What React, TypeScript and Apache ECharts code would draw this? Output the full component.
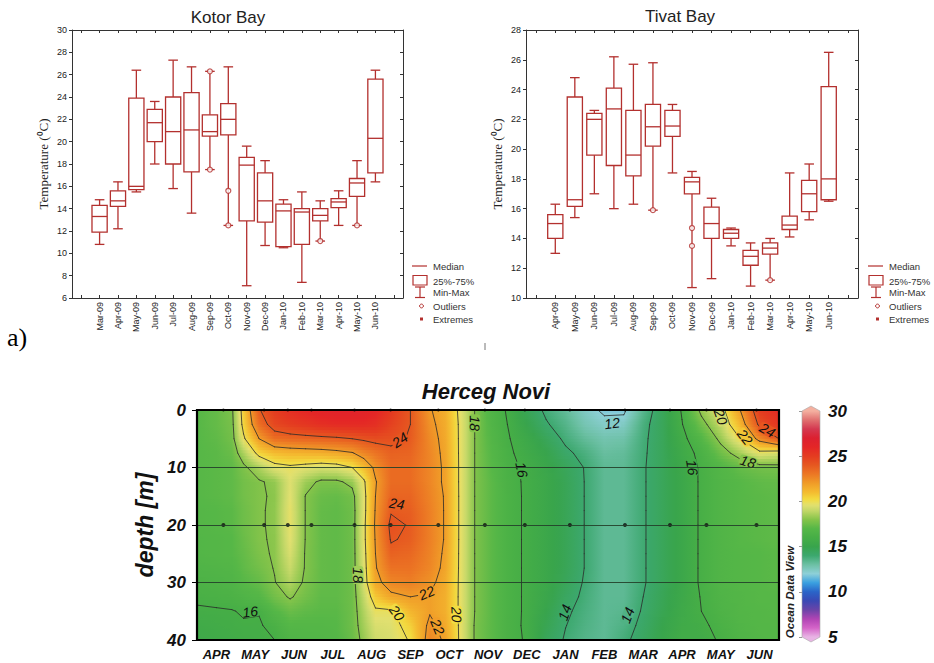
import React, { useEffect, useRef } from 'react';
import * as echarts from 'echarts';

const SANS = '"Liberation Sans", Arial, Helvetica, sans-serif';
const SERIF = '"Liberation Serif", "Times New Roman", Times, serif';
const BOX_RED = '#b3302e';

// ---------------- Kotor Bay (box plot) ----------------
const KOTOR_MONTHS = ['Mar-09', 'Apr-09', 'May-09', 'Jun-09', 'Jul-09', 'Aug-09', 'Sep-09', 'Oct-09', 'Nov-09', 'Dec-09', 'Jan-10', 'Feb-10', 'Mar-10', 'Apr-10', 'May-10', 'Jun-10'];
const KOTOR_MIN = [10.8, 12.2, 15.5, 18.0, 15.8, 13.6, 17.5, 12.5, 7.1, 10.7, 10.5, 7.4, 11.1, 12.5, 12.5, 16.4];
const KOTOR_Q1 = [11.9, 14.2, 15.7, 20.0, 18.0, 17.3, 20.5, 20.6, 12.9, 12.8, 10.6, 10.8, 12.9, 14.1, 15.1, 17.2];
const KOTOR_MEDIAN = [13.3, 14.7, 16.0, 21.7, 20.9, 21.05, 20.9, 22.0, 17.9, 14.7, 13.8, 13.7, 13.4, 14.6, 16.3, 20.3];
const KOTOR_Q3 = [14.3, 15.6, 23.9, 22.9, 24.0, 24.4, 22.4, 23.4, 18.6, 17.2, 14.4, 14.0, 14.0, 14.9, 16.7, 25.6];
const KOTOR_MAX = [14.8, 16.4, 26.4, 23.6, 27.3, 26.7, 26.3, 26.7, 19.6, 18.3, 14.8, 15.5, 14.7, 15.6, 18.3, 26.4];
const KOTOR_OUTLIERS: [string, number][] = [['Sep-09', 26.3], ['Sep-09', 17.5], ['Oct-09', 15.6], ['Oct-09', 12.5], ['Mar-10', 11.1], ['May-10', 12.5]];
const KOTOR_Y = { min: 6, max: 30, step: 2 };

// ---------------- Tivat Bay (box plot) ----------------
const TIVAT_MONTHS = ['Apr-09', 'May-09', 'Jun-09', 'Jul-09', 'Aug-09', 'Sep-09', 'Oct-09', 'Nov-09', 'Dec-09', 'Jan-10', 'Feb-10', 'Mar-10', 'Apr-10', 'May-10', 'Jun-10'];
const TIVAT_MIN = [13.0, 15.4, 17.0, 16.0, 16.3, 15.9, 18.4, 10.7, 11.3, 13.5, 10.8, 11.2, 14.1, 15.25, 16.5];
const TIVAT_Q1 = [14.0, 16.15, 19.6, 18.9, 18.2, 20.2, 20.85, 17.0, 14.0, 14.0, 12.2, 12.95, 14.6, 15.8, 16.6];
const TIVAT_MEDIAN = [15.0, 16.6, 22.0, 22.7, 19.6, 21.5, 21.55, 17.8, 15.0, 14.35, 12.8, 13.35, 14.9, 17.0, 18.0];
const TIVAT_Q3 = [15.6, 23.5, 22.4, 24.1, 22.6, 23.0, 22.6, 18.1, 16.1, 14.6, 13.2, 13.7, 15.5, 17.9, 24.2];
const TIVAT_MAX = [16.3, 24.8, 22.6, 26.2, 25.7, 25.8, 23.0, 18.5, 16.7, 14.7, 13.7, 14.0, 18.4, 19.0, 26.5];
const TIVAT_OUTLIERS: [string, number][] = [['Sep-09', 15.9], ['Nov-09', 14.7], ['Nov-09', 13.5], ['Mar-10', 11.2]];
const TIVAT_Y = { min: 10, max: 28, step: 2 };

// ---------------- Herceg Novi (depth-time section) ----------------
const HN_MONTHS = ['APR', 'MAY', 'JUN', 'JUL', 'AUG', 'SEP', 'OCT', 'NOV', 'DEC', 'JAN', 'FEB', 'MAR', 'APR', 'MAY', 'JUN'];
// positions (in months from start of April) of the temperature profiles read from the section
const HN_X = [0, 0.5, 0.9, 1.2, 1.6, 2.0, 2.4, 2.8, 3.2, 3.6, 4.0, 4.3, 4.6, 5.0, 5.5, 6.0, 6.4, 6.8, 7.2, 7.6, 8.0, 8.5, 9.0, 9.5, 10.0, 10.5, 11.0, 11.5, 12.0, 12.5, 13.0, 13.5, 14.0, 14.5, 15.0];
const HN_DEPTHS = [0, 2.5, 5, 7.5, 10, 12.5, 15, 17.5, 20, 22.5, 25, 27.5, 30, 32.5, 35, 37.5, 40];
// temperature profiles (°C) at each HN_X position, top (0 m) to bottom (40 m)
const HN_P00 = [17.0, 17.0, 17.0, 17.0, 17.0, 17.0, 17.0, 16.9, 16.9, 16.8, 16.8, 16.6, 16.4, 16.2, 15.85, 15.6, 15.5];
const HN_P05 = [17.3, 17.3, 17.2, 17.1, 17.1, 17.1, 17.1, 17.0, 17.0, 16.9, 16.9, 16.7, 16.5, 16.3, 15.9, 15.7, 15.6];
const HN_P09 = [17.8, 17.7, 17.6, 17.4, 17.2, 17.2, 17.2, 17.1, 17.1, 17.0, 17.0, 16.8, 16.6, 16.4, 15.95, 15.8, 15.7];
const HN_P12 = [20.6, 20.4, 19.8, 18.6, 17.8, 17.6, 17.6, 17.5, 17.5, 17.4, 17.3, 17.2, 17.0, 16.6, 16.1, 15.9, 15.8];
const HN_P16 = [23.9, 23.3, 22.0, 20.4, 18.6, 17.9, 17.9, 17.9, 17.9, 17.9, 17.8, 17.6, 17.3, 16.9, 16.05, 15.9, 15.85];
const HN_P20 = [25.0, 24.6, 23.3, 21.0, 19.6, 18.2, 18.1, 18.15, 18.15, 18.1, 18.1, 18.05, 17.95, 17.6, 16.9, 16.3, 16.0];
const HN_P24 = [25.6, 25.0, 23.5, 21.2, 19.8, 19.5, 19.6, 19.7, 19.7, 19.6, 19.4, 19.1, 18.7, 18.1, 17.4, 16.9, 16.6];
const HN_P28 = [26.0, 25.3, 23.6, 21.3, 19.6, 18.4, 17.95, 17.95, 17.95, 17.95, 17.9, 17.9, 17.8, 17.6, 17.2, 16.9, 16.7];
const HN_P32 = [26.3, 25.6, 23.7, 21.4, 19.4, 17.8, 17.4, 17.3, 17.3, 17.3, 17.3, 17.3, 17.3, 17.2, 17.1, 16.9, 16.8];
const HN_P36 = [26.5, 25.8, 23.8, 21.6, 19.5, 17.8, 17.3, 17.2, 17.2, 17.2, 17.2, 17.2, 17.2, 17.2, 17.1, 17.0, 16.9];
const HN_P40 = [26.5, 25.8, 24.0, 21.9, 20.0, 18.3, 17.6, 17.5, 17.5, 17.5, 17.5, 17.5, 17.5, 17.5, 17.5, 17.5, 17.4];
const HN_P43 = [26.4, 25.8, 24.2, 22.6, 21.0, 19.8, 19.6, 19.6, 19.7, 19.7, 19.6, 19.5, 19.4, 19.0, 18.7, 18.5, 18.3];
const HN_P46 = [26.1, 25.6, 24.4, 23.1, 22.3, 21.9, 22.0, 22.1, 22.2, 22.1, 22.0, 21.9, 21.6, 20.7, 19.8, 19.4, 19.2];
const HN_P50 = [25.2, 24.8, 24.3, 23.7, 23.4, 23.4, 23.6, 23.9, 24.3, 24.1, 23.7, 23.2, 22.6, 21.7, 19.8, 19.5, 19.4];
const HN_P55 = [24.0, 24.0, 23.9, 23.6, 23.4, 23.4, 23.6, 23.8, 23.9, 23.8, 23.5, 23.2, 22.8, 22.0, 21.2, 20.5, 20.1];
const HN_P60 = [22.1, 22.3, 22.5, 22.6, 22.6, 22.6, 22.7, 22.8, 22.8, 22.8, 22.7, 22.6, 22.3, 21.9, 21.9, 22.3, 22.6];
const HN_P64 = [21.4, 21.5, 21.6, 21.7, 21.8, 21.8, 21.9, 21.9, 21.9, 21.9, 21.8, 21.7, 21.5, 21.4, 21.4, 21.6, 21.8];
const HN_P68 = [19.6, 19.7, 19.7, 19.7, 19.7, 19.7, 19.7, 19.7, 19.7, 19.7, 19.7, 19.7, 19.7, 19.7, 19.7, 19.7, 19.7];
const HN_P72 = [17.8, 17.8, 17.8, 17.8, 17.8, 17.8, 17.8, 17.8, 17.8, 17.8, 17.8, 17.8, 17.8, 17.8, 17.8, 17.7, 17.7];
const HN_P76 = [16.6, 16.7, 16.8, 16.9, 17.0, 17.1, 17.1, 17.1, 17.1, 17.1, 17.1, 17.1, 17.1, 17.1, 17.1, 17.1, 17.1];
const HN_P80 = [15.9, 16.0, 16.1, 16.2, 16.3, 16.35, 16.4, 16.4, 16.4, 16.4, 16.4, 16.4, 16.4, 16.4, 16.4, 16.35, 16.35];
const HN_P85 = [14.7, 15.0, 15.4, 15.6, 15.8, 15.85, 15.85, 15.85, 15.85, 15.85, 15.85, 15.85, 15.85, 15.85, 15.85, 15.85, 15.9];
const HN_P90 = [13.8, 14.1, 14.6, 15.0, 15.2, 15.3, 15.3, 15.3, 15.3, 15.3, 15.3, 15.3, 15.3, 15.2, 15.0, 14.8, 14.6];
const HN_P95 = [13.2, 13.5, 13.8, 14.2, 14.6, 14.7, 14.7, 14.7, 14.7, 14.7, 14.7, 14.7, 14.6, 14.4, 14.15, 14.02, 13.9];
const HN_P100 = [12.4, 12.7, 13.2, 13.7, 13.95, 13.97, 13.97, 13.97, 13.97, 13.97, 13.97, 13.97, 13.9, 13.8, 13.7, 13.6, 13.5];
const HN_P105 = [11.8, 12.3, 12.8, 13.1, 13.3, 13.3, 13.3, 13.3, 13.3, 13.3, 13.3, 13.3, 13.3, 13.3, 13.3, 13.3, 13.3];
const HN_P110 = [11.8, 12.4, 12.9, 13.2, 13.3, 13.3, 13.3, 13.3, 13.3, 13.3, 13.3, 13.3, 13.3, 13.3, 13.4, 13.6, 13.8];
const HN_P115 = [13.4, 13.7, 13.8, 13.85, 13.9, 13.9, 13.9, 13.9, 13.9, 13.9, 13.9, 13.9, 13.9, 14.0, 14.1, 14.25, 14.4];
const HN_P120 = [14.6, 14.6, 14.6, 14.6, 14.6, 14.6, 14.6, 14.6, 14.6, 14.6, 14.6, 14.6, 14.6, 14.7, 14.8, 15.0, 15.1];
const HN_P125 = [16.1, 15.95, 15.7, 15.5, 15.35, 15.3, 15.3, 15.3, 15.3, 15.3, 15.3, 15.3, 15.3, 15.4, 15.5, 15.6, 15.7];
const HN_P130 = [18.3, 17.6, 16.8, 16.3, 16.15, 16.15, 16.15, 16.15, 16.15, 16.15, 16.15, 16.15, 16.15, 16.05, 16.0, 15.8, 15.7];
const HN_P135 = [19.5, 19.0, 18.3, 17.5, 16.8, 16.7, 16.7, 16.7, 16.7, 16.7, 16.7, 16.7, 16.7, 16.6, 16.5, 16.3, 16.1];
const HN_P140 = [22.0, 21.2, 20.0, 18.5, 17.3, 17.0, 17.0, 17.0, 17.0, 17.0, 16.9, 16.9, 16.9, 16.8, 16.8, 16.7, 16.6];
const HN_P145 = [25.0, 24.3, 22.5, 19.6, 17.6, 17.2, 17.1, 17.1, 17.1, 17.1, 17.0, 17.0, 17.0, 17.0, 16.9, 16.9, 16.8];
const HN_P150 = [25.8, 25.3, 24.0, 19.3, 17.7, 17.3, 17.2, 17.2, 17.2, 17.2, 17.1, 17.1, 17.1, 17.0, 17.0, 16.9, 16.9];
const HN_PROFILES = [HN_P00, HN_P05, HN_P09, HN_P12, HN_P16, HN_P20, HN_P24, HN_P28, HN_P32, HN_P36, HN_P40, HN_P43, HN_P46, HN_P50, HN_P55, HN_P60, HN_P64, HN_P68, HN_P72, HN_P76, HN_P80, HN_P85, HN_P90, HN_P95, HN_P100, HN_P105, HN_P110, HN_P115, HN_P120, HN_P125, HN_P130, HN_P135, HN_P140, HN_P145, HN_P150];
// sampling times (months from start of April), shown as dots at 20 m and at the surface
const HN_STATIONS = [0.68, 1.73, 2.34, 2.95, 4.06, 4.99, 6.22, 7.42, 8.45, 9.61, 11.03, 12.19, 13.13, 14.42];
const HN_DEPTH_LINES = [10, 20, 30];
const HN_LEVELS = [12, 14, 16, 18, 20, 22, 24];
// contour labels: [month position, depth, level]
const HN_CONTOUR_LABELS: [number, number, number][] = [
  [5.23, 5.2, 24], [5.15, 16.3, 24], [4.15, 28.7, 18], [5.92, 31.8, 22], [5.15, 35.3, 20], [6.2, 37.7, 22],
  [6.69, 35.6, 20], [7.16, 2.3, 18], [8.37, 10.4, 16], [1.37, 35.1, 16], [9.48, 35.2, 14], [11.1, 35.7, 14],
  [10.7, 2.3, 12], [12.76, 10, 16], [13.5, 1.2, 20], [14.12, 4.7, 22], [14.7, 3.5, 24], [14.2, 9, 18],
];
const CBAR_RANGE = { min: 5, max: 30, step: 5 };

// ODV-like colour map
const CMAP: [number, string][] = [
  [5, '#e8b4e4'], [6, '#d464c8'], [7, '#b044b4'], [8, '#6a44a8'], [9, '#3a48b4'], [10, '#2a64c8'],
  [11, '#3aa0e0'], [12, '#8ed0d8'], [13, '#6cc0a4'], [14, '#3ca86e'], [15, '#38a44c'], [16, '#46ae46'],
  [17, '#56b747'], [18, '#86c44a'], [19, '#c4d868'], [19.6, '#e2e070'], [20.2, '#f2dc40'], [21, '#f4bc30'],
  [22, '#f09c28'], [23, '#ec7824'], [24, '#e65820'], [25, '#e43c20'], [26, '#e42626'], [27, '#dc2030'],
  [28, '#d43850'], [29, '#e07070'], [30, '#f4b0a0'],
];
const CMAP_RGB = CMAP.map(([v, h]) => [v, [parseInt(h.slice(1, 3), 16), parseInt(h.slice(3, 5), 16), parseInt(h.slice(5, 7), 16)]] as [number, number[]]);
function cmap(v: number): string {
  if (v <= CMAP_RGB[0][0]) { const c = CMAP_RGB[0][1]; return `rgb(${c[0]},${c[1]},${c[2]})`; }
  for (let k = 0; k < CMAP_RGB.length - 1; k++) {
    const [v0, c0] = CMAP_RGB[k];
    const [v1, c1] = CMAP_RGB[k + 1];
    if (v <= v1) {
      const t = (v - v0) / (v1 - v0);
      const r = Math.round(c0[0] + t * (c1[0] - c0[0]));
      const g = Math.round(c0[1] + t * (c1[1] - c0[1]));
      const b = Math.round(c0[2] + t * (c1[2] - c0[2]));
      return `rgb(${r},${g},${b})`;
    }
  }
  const c = CMAP_RGB[CMAP_RGB.length - 1][1];
  return `rgb(${c[0]},${c[1]},${c[2]})`;
}

// grid rows (depth) x columns (time)
const GRID = HN_DEPTHS.map((_, r) => HN_PROFILES.map((p) => p[r]));
const X_MIN = HN_X[0];
const X_MAX = HN_X[HN_X.length - 1];
const D_MAX = HN_DEPTHS[HN_DEPTHS.length - 1];

function sampleField(x: number, d: number): number {
  let i = 0;
  while (i < HN_X.length - 2 && HN_X[i + 1] < x) i++;
  let j = 0;
  while (j < HN_DEPTHS.length - 2 && HN_DEPTHS[j + 1] < d) j++;
  const tx = Math.max(0, Math.min(1, (x - HN_X[i]) / (HN_X[i + 1] - HN_X[i])));
  const ty = Math.max(0, Math.min(1, (d - HN_DEPTHS[j]) / (HN_DEPTHS[j + 1] - HN_DEPTHS[j])));
  const a = GRID[j][i], b = GRID[j][i + 1], c = GRID[j + 1][i + 1], dd = GRID[j + 1][i];
  return (1 - ty) * ((1 - tx) * a + tx * b) + ty * ((1 - tx) * dd + tx * c);
}

function segmentsFor(L: number) {
  const segs: number[][][] = [];
  for (let j = 0; j < HN_DEPTHS.length - 1; j++) {
    for (let i = 0; i < HN_X.length - 1; i++) {
      const a = GRID[j][i], b = GRID[j][i + 1], c = GRID[j + 1][i + 1], d = GRID[j + 1][i];
      const x0 = HN_X[i], x1 = HN_X[i + 1], y0 = HN_DEPTHS[j], y1 = HN_DEPTHS[j + 1];
      const A = a >= L, B = b >= L, C = c >= L, D = d >= L;
      const top = A !== B ? [x0 + ((L - a) / (b - a)) * (x1 - x0), y0] : null;
      const right = B !== C ? [x1, y0 + ((L - b) / (c - b)) * (y1 - y0)] : null;
      const bottom = D !== C ? [x0 + ((L - d) / (c - d)) * (x1 - x0), y1] : null;
      const left = A !== D ? [x0, y0 + ((L - a) / (d - a)) * (y1 - y0)] : null;
      const pts = [top, right, bottom, left].filter(Boolean) as number[][];
      if (pts.length === 2) segs.push([pts[0], pts[1]]);
      else if (pts.length === 4) {
        const center = (a + b + c + d) / 4 >= L;
        if (center === A) { segs.push([top!, right!]); segs.push([bottom!, left!]); }
        else { segs.push([top!, left!]); segs.push([right!, bottom!]); }
      }
    }
  }
  return segs;
}
const SEGS = HN_LEVELS.map((L) => segmentsFor(L));

// ---------------- render helpers ----------------
function boxRender(params: any, api: any) {
  const x = api.value(0);
  const pMin = api.coord([x, api.value(1)]);
  const pQ1 = api.coord([x, api.value(2)]);
  const pMed = api.coord([x, api.value(3)]);
  const pQ3 = api.coord([x, api.value(4)]);
  const pMax = api.coord([x, api.value(5)]);
  const cx = pMin[0];
  const hw = 7.6;
  const cw = 4.8;
  const st = { stroke: BOX_RED, lineWidth: 1.3, fill: null };
  return {
    type: 'group',
    children: [
      { type: 'line', shape: { x1: cx, y1: pMax[1], x2: cx, y2: pQ3[1] }, style: st },
      { type: 'line', shape: { x1: cx, y1: pQ1[1], x2: cx, y2: pMin[1] }, style: st },
      { type: 'line', shape: { x1: cx - cw, y1: pMax[1], x2: cx + cw, y2: pMax[1] }, style: st },
      { type: 'line', shape: { x1: cx - cw, y1: pMin[1], x2: cx + cw, y2: pMin[1] }, style: st },
      { type: 'rect', shape: { x: cx - hw, y: pQ3[1], width: 2 * hw, height: pQ1[1] - pQ3[1] }, style: { stroke: BOX_RED, lineWidth: 1.3, fill: '#ffffff' } },
      { type: 'line', shape: { x1: cx - hw, y1: pMed[1], x2: cx + hw, y2: pMed[1] }, style: st },
    ],
  };
}

function heatRender(params: any, api: any) {
  const j = api.value(2);
  const S = 5;
  const K = 3;
  const last = HN_X.length - 1;
  const xL = api.coord([X_MIN, HN_DEPTHS[j]])[0];
  const xR = api.coord([X_MAX, HN_DEPTHS[j]])[0];
  const children: any[] = [];
  for (let s = 0; s < S; s++) {
    const t0 = s / S;
    const t1 = (s + 1) / S;
    const tm = (t0 + t1) / 2;
    const d0 = HN_DEPTHS[j] + t0 * (HN_DEPTHS[j + 1] - HN_DEPTHS[j]);
    const d1 = HN_DEPTHS[j] + t1 * (HN_DEPTHS[j + 1] - HN_DEPTHS[j]);
    const y0 = api.coord([X_MIN, d0])[1];
    const y1 = api.coord([X_MIN, d1])[1];
    const row = GRID[j].map((v, i) => v * (1 - tm) + GRID[j + 1][i] * tm);
    const stops: any[] = [];
    for (let i = 0; i < last; i++) {
      for (let k = 0; k < K; k++) {
        const f = k / K;
        const xv = HN_X[i] + f * (HN_X[i + 1] - HN_X[i]);
        stops.push({ offset: (xv - X_MIN) / (X_MAX - X_MIN), color: cmap(row[i] + f * (row[i + 1] - row[i])) });
      }
    }
    stops.push({ offset: 1, color: cmap(row[last]) });
    children.push({
      type: 'rect',
      shape: { x: xL, y: y0, width: xR - xL, height: y1 - y0 + 0.9 },
      style: { fill: { type: 'linear', x: 0, y: 0, x2: 1, y2: 0, colorStops: stops, global: false } },
    });
  }
  return { type: 'group', children };
}

function contourRender(params: any, api: any) {
  const li = api.value(2);
  const children = SEGS[li].map(([p, q]) => {
    const a = api.coord(p);
    const b = api.coord(q);
    return { type: 'line', shape: { x1: a[0], y1: a[1], x2: b[0], y2: b[1] }, style: { stroke: '#2a2a2a', lineWidth: 0.8, lineCap: 'round' } };
  });
  return { type: 'group', children };
}

function labelRender(params: any, api: any) {
  const k = api.value(2);
  const [lm, ld, lev] = HN_CONTOUR_LABELS[k];
  const P = api.coord([lm, ld]);
  const cs = params.coordSys;
  const f = (px: number, py: number) => {
    const m = X_MIN + ((px - cs.x) / cs.width) * (X_MAX - X_MIN);
    const d = ((py - cs.y) / cs.height) * D_MAX;
    return sampleField(Math.max(X_MIN, Math.min(X_MAX, m)), Math.max(0, Math.min(D_MAX, d)));
  };
  const h = 4;
  const gx = (f(P[0] + h, P[1]) - f(P[0] - h, P[1])) / (2 * h);
  const gy = (f(P[0], P[1] + h) - f(P[0], P[1] - h)) / (2 * h);
  // isotherm tangent is perpendicular to the local gradient
  let ang = Math.atan2(gx, -gy);
  while (ang > Math.PI / 2 + 1e-6) ang -= Math.PI;
  while (ang <= -Math.PI / 2 + 1e-6) ang += Math.PI;
  const bg = cmap(f(P[0], P[1]));
  return {
    type: 'group',
    x: P[0],
    y: P[1],
    rotation: -ang,
    children: [
      { type: 'rect', shape: { x: -9, y: -5.5, width: 18, height: 11, r: 3 }, style: { fill: bg } },
      {
        type: 'text',
        style: { text: String(lev), x: 0, y: 0, font: `italic 14px ${SANS}`, fill: '#111', textAlign: 'center', textVerticalAlign: 'middle', align: 'center', verticalAlign: 'middle' },
      },
    ],
  };
}

function frameRender(params: any, api: any) {
  const a = api.coord([X_MIN, 0]);
  const b = api.coord([X_MAX, D_MAX]);
  return { type: 'rect', shape: { x: a[0], y: a[1], width: b[0] - a[0], height: b[1] - a[1] }, style: { fill: null, stroke: '#000', lineWidth: 2.2 } };
}

function colorbarRender(params: any, api: any) {
  const top = api.coord([0, CBAR_RANGE.max]);
  const bot = api.coord([1, CBAR_RANGE.min]);
  const x0 = top[0], x1 = bot[0], yT = top[1], yB = bot[1];
  const xc = (x0 + x1) / 2;
  const tip = 5;
  const stops: any[] = [];
  for (let v = CBAR_RANGE.max; v >= CBAR_RANGE.min - 1e-9; v -= 0.25) {
    const y = api.coord([0, v])[1];
    stops.push({ offset: (y - (yT - tip)) / (yB - yT + 2 * tip), color: cmap(v) });
  }
  stops.unshift({ offset: 0, color: cmap(CBAR_RANGE.max) });
  stops.push({ offset: 1, color: cmap(CBAR_RANGE.min) });
  return {
    type: 'polygon',
    shape: { points: [[xc, yT - tip], [x1, yT], [x1, yB], [xc, yB + tip], [x0, yB], [x0, yT]] },
    style: { fill: { type: 'linear', x: 0, y: 0, x2: 0, y2: 1, colorStops: stops, global: false }, stroke: '#a8a8a8', lineWidth: 0.6 },
  };
}

function legendGraphic(iconX: number, textX: number) {
  const ys = [266, 281, 292.5, 306, 319];
  const names = ['Median', '25%-75%', 'Min-Max', 'Outliers', 'Extremes'];
  const st = { stroke: BOX_RED, lineWidth: 1.2, fill: null };
  const els: any[] = [
    { type: 'line', shape: { x1: iconX - 8, y1: ys[0], x2: iconX + 7, y2: ys[0] }, style: st },
    { type: 'rect', shape: { x: iconX - 7, y: 275.5, width: 14, height: 9.5 }, style: st },
    { type: 'line', shape: { x1: iconX, y1: 287, x2: iconX, y2: 297.5 }, style: st },
    { type: 'line', shape: { x1: iconX - 5, y1: 287, x2: iconX + 5, y2: 287 }, style: st },
    { type: 'line', shape: { x1: iconX - 5, y1: 297.5, x2: iconX + 5, y2: 297.5 }, style: st },
    { type: 'circle', shape: { cx: iconX + 1.5, cy: ys[3], r: 1.9 }, style: { stroke: BOX_RED, lineWidth: 1, fill: '#fff' } },
    { type: 'rect', shape: { x: iconX, y: ys[4] - 1.5, width: 3, height: 3 }, style: { fill: BOX_RED } },
  ];
  names.forEach((n, i) => {
    els.push({ type: 'text', x: textX, y: ys[i], style: { text: n, font: `9.5px ${SANS}`, fill: '#333', textAlign: 'left', textVerticalAlign: 'middle', align: 'left', verticalAlign: 'middle' } });
  });
  return els;
}

function boxAxes(gridIndex: number, cats: string[], y: { min: number; max: number; step: number }) {
  const data = [' ', ...cats, '  '];
  const line = { show: true, onZero: false, lineStyle: { color: '#333', width: 1 } };
  const xs = [
    {
      type: 'category', gridIndex, data, boundaryGap: true, position: 'bottom', axisLine: line,
      axisTick: { show: true, inside: true, length: 3, alignWithLabel: true, interval: 0, lineStyle: { color: '#333' } },
      axisLabel: { interval: 0, rotate: 90, fontSize: 9, fontFamily: SANS, color: '#222', margin: 4 },
      splitLine: { show: false },
    },
    {
      type: 'category', gridIndex, data, boundaryGap: true, position: 'top', axisLine: line,
      axisTick: { show: true, inside: true, length: 3, alignWithLabel: true, interval: 0, lineStyle: { color: '#333' } },
      axisLabel: { show: false }, splitLine: { show: false },
    },
  ];
  const ys = [
    {
      type: 'value', gridIndex, min: y.min, max: y.max, interval: y.step, position: 'left', axisLine: line,
      axisTick: { show: true, inside: false, length: 3, lineStyle: { color: '#333' } },
      axisLabel: { fontSize: 9, fontFamily: SANS, color: '#222', margin: 5 },
      splitLine: { show: false },
      name: 'Temperature (\u2070C)', nameLocation: 'middle', nameGap: 22, nameRotate: 90,
      nameTextStyle: { fontFamily: SERIF, fontSize: 13, color: '#222' },
    },
    {
      type: 'value', gridIndex, min: y.min, max: y.max, interval: y.step, position: 'right', axisLine: line,
      axisTick: { show: true, inside: true, length: 3, lineStyle: { color: '#333' } },
      axisLabel: { show: false }, splitLine: { show: false },
    },
  ];
  return { xs, ys };
}

function buildOption() {
  const kotorAx = boxAxes(0, KOTOR_MONTHS, KOTOR_Y);
  const tivatAx = boxAxes(1, TIVAT_MONTHS, TIVAT_Y);
  const boldItalic = { fontStyle: 'italic', fontWeight: 'bold', fontFamily: SANS, color: '#111' };

  const kotorBoxes = KOTOR_MONTHS.map((m, i) => [i + 1, KOTOR_MIN[i], KOTOR_Q1[i], KOTOR_MEDIAN[i], KOTOR_Q3[i], KOTOR_MAX[i]]);
  const tivatBoxes = TIVAT_MONTHS.map((m, i) => [i + 1, TIVAT_MIN[i], TIVAT_Q1[i], TIVAT_MEDIAN[i], TIVAT_Q3[i], TIVAT_MAX[i]]);
  const kotorOut = KOTOR_OUTLIERS.map(([m, v]) => [KOTOR_MONTHS.indexOf(m) + 1, v]);
  const tivatOut = TIVAT_OUTLIERS.map(([m, v]) => [TIVAT_MONTHS.indexOf(m) + 1, v]);
  const outlierStyle = { color: '#ffffff', borderColor: BOX_RED, borderWidth: 1.2 };

  return {
    animation: false,
    backgroundColor: '#ffffff',
    grid: [
      { left: 72, top: 30, width: 331, height: 268, outerBoundsMode: 'none' },
      { left: 526, top: 30, width: 332, height: 268, outerBoundsMode: 'none' },
      { left: 197, top: 410, width: 582, height: 230, outerBoundsMode: 'none' },
      { left: 802, top: 411, width: 18, height: 226, outerBoundsMode: 'none' },
    ],
    xAxis: [
      ...kotorAx.xs,
      ...tivatAx.xs,
      {
        type: 'value', gridIndex: 2, min: X_MIN, max: X_MAX, interval: 1,
        axisLine: { show: false }, axisTick: { show: true, length: 5, lineStyle: { color: '#000', width: 1 } },
        axisLabel: { show: false }, splitLine: { show: false },
      },
      {
        type: 'category', gridIndex: 2, data: HN_MONTHS, boundaryGap: true, position: 'bottom',
        axisLine: { show: false }, axisTick: { show: false },
        axisLabel: { interval: 0, fontSize: 13, margin: 8, ...boldItalic },
        splitLine: { show: false },
      },
      { type: 'value', gridIndex: 3, min: 0, max: 1, show: false },
    ],
    yAxis: [
      ...kotorAx.ys,
      ...tivatAx.ys,
      {
        type: 'value', gridIndex: 2, inverse: true, min: 0, max: D_MAX, interval: 10,
        axisLine: { show: false }, axisTick: { show: true, length: 5, lineStyle: { color: '#000', width: 1 } },
        axisLabel: { fontSize: 17, margin: 11, ...boldItalic },
        splitLine: { show: false },
        name: 'depth [m]', nameLocation: 'middle', nameGap: 40, nameRotate: 90,
        nameTextStyle: { fontSize: 23, ...boldItalic },
      },
      {
        type: 'value', gridIndex: 3, min: CBAR_RANGE.min, max: CBAR_RANGE.max, interval: CBAR_RANGE.step, position: 'right',
        axisLine: { show: false }, axisTick: { show: true, inside: true, length: 3, lineStyle: { color: '#999' } },
        axisLabel: { fontSize: 17, margin: 8, ...boldItalic },
        splitLine: { show: false },
      },
    ],
    graphic: [
      { type: 'text', x: 228, y: 17, style: { text: 'Kotor Bay', font: `17px ${SANS}`, fill: '#222', textAlign: 'center', textVerticalAlign: 'middle', align: 'center', verticalAlign: 'middle' } },
      { type: 'text', x: 680, y: 16, style: { text: 'Tivat Bay', font: `17px ${SANS}`, fill: '#222', textAlign: 'center', textVerticalAlign: 'middle', align: 'center', verticalAlign: 'middle' } },
      ...legendGraphic(420, 433),
      ...legendGraphic(876, 889),
      { type: 'text', x: 7, y: 337, style: { text: 'a)', font: `26px ${SERIF}`, fill: '#000', textAlign: 'left', textVerticalAlign: 'middle', align: 'left', verticalAlign: 'middle' } },
      { type: 'line', shape: { x1: 485, y1: 343, x2: 485, y2: 350 }, style: { stroke: '#777', lineWidth: 1 } },
      { type: 'text', x: 486, y: 391, style: { text: 'Herceg Novi', font: `italic bold 22px ${SANS}`, fill: '#111', textAlign: 'center', textVerticalAlign: 'middle', align: 'center', verticalAlign: 'middle' } },
      { type: 'text', x: 790, y: 592, rotation: Math.PI / 2, style: { text: 'Ocean Data View', font: `italic bold 11.5px ${SANS}`, fill: '#222', textAlign: 'center', textVerticalAlign: 'middle', align: 'center', verticalAlign: 'middle' } },
    ],
    series: [
      { type: 'custom', name: 'Kotor Bay', xAxisIndex: 0, yAxisIndex: 0, data: kotorBoxes, renderItem: boxRender, silent: true, z: 3, encode: { x: 0, y: [1, 2, 3, 4, 5] } },
      { type: 'scatter', name: 'Kotor outliers', xAxisIndex: 0, yAxisIndex: 0, data: kotorOut, symbol: 'circle', symbolSize: 5, itemStyle: outlierStyle, silent: true, z: 4 },
      { type: 'custom', name: 'Tivat Bay', xAxisIndex: 2, yAxisIndex: 2, data: tivatBoxes, renderItem: boxRender, silent: true, z: 3, encode: { x: 0, y: [1, 2, 3, 4, 5] } },
      { type: 'scatter', name: 'Tivat outliers', xAxisIndex: 2, yAxisIndex: 2, data: tivatOut, symbol: 'circle', symbolSize: 5, itemStyle: outlierStyle, silent: true, z: 4 },
      {
        type: 'custom', name: 'temperature', xAxisIndex: 4, yAxisIndex: 4, clip: true, silent: true, z: 1,
        data: HN_DEPTHS.slice(0, -1).map((_, j) => [7.5, 20, j]), renderItem: heatRender,
      },
      {
        type: 'custom', name: 'isotherms', xAxisIndex: 4, yAxisIndex: 4, clip: true, silent: true, z: 2,
        data: HN_LEVELS.map((_, li) => [7.5, 20, li]), renderItem: contourRender,
      },
      {
        type: 'custom', name: 'isotherm labels', xAxisIndex: 4, yAxisIndex: 4, clip: true, silent: true, z: 3,
        data: HN_CONTOUR_LABELS.map((l, k) => [l[0], l[1], k]), renderItem: labelRender,
      },
      {
        type: 'scatter', name: 'stations', xAxisIndex: 4, yAxisIndex: 4, silent: true, z: 4,
        data: HN_STATIONS.map((m) => [m, 20]), symbol: 'circle', symbolSize: 4, itemStyle: { color: '#111' },
        markLine: {
          silent: true, symbol: ['none', 'none'], label: { show: false },
          lineStyle: { color: '#24402a', width: 1, type: 'solid', opacity: 0.9 },
          data: HN_DEPTH_LINES.map((d) => ({ yAxis: d })),
        },
      },
      {
        type: 'scatter', name: 'stations top', xAxisIndex: 4, yAxisIndex: 4, silent: true, z: 4,
        data: HN_STATIONS.map((m) => [m, 0]), symbol: 'circle', symbolSize: 3, itemStyle: { color: '#111' },
      },
      { type: 'custom', name: 'frame', xAxisIndex: 4, yAxisIndex: 4, silent: true, z: 6, data: [[7.5, 20]], renderItem: frameRender },
      { type: 'custom', name: 'colorbar', xAxisIndex: 6, yAxisIndex: 5, silent: true, z: 2, data: [[0.5, 17.5]], renderItem: colorbarRender },
    ],
  };
}

export default function App() {
  const ref = useRef<HTMLDivElement>(null);
  useEffect(() => {
    if (!ref.current) return;
    const chart = echarts.init(ref.current, null, { renderer: 'svg' });
    chart.setOption(buildOption() as any);
    return () => chart.dispose();
  }, []);
  return <div ref={ref} style={{ position: 'fixed', left: 0, top: 0, width: 934, height: 663, background: '#fff' }} />;
}
